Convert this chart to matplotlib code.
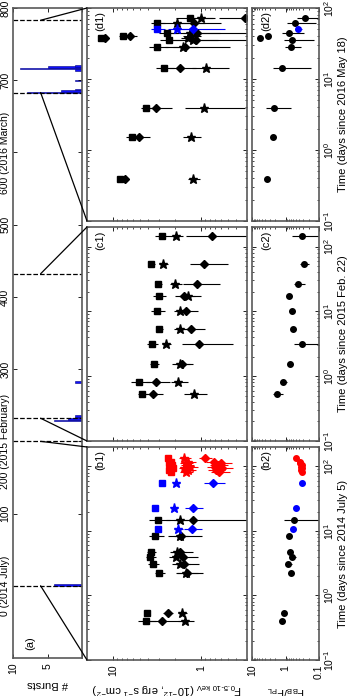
import numpy as np
import matplotlib.pyplot as plt
from matplotlib.patches import ConnectionPatch
from matplotlib.ticker import NullFormatter

plt.rcParams['font.family'] = 'Liberation Sans'
plt.rcParams['mathtext.fontset'] = 'custom'
plt.rcParams['mathtext.rm'] = 'Liberation Sans'
plt.rcParams['mathtext.it'] = 'Liberation Sans:italic'
plt.rcParams['mathtext.bf'] = 'Liberation Sans:bold'

# (a) burst history, days since 2014 July 5
burst_day = [1, 229, 231, 233, 235, 282, 683, 685, 687, 700, 714, 716, 718, 720]
burst_num = [4, 4, 2, 1, 1, 1, 8, 3, 1, 1, 1, 9, 5, 1]
epoch_start = [0, 232, 683]
epoch_len = [200, 200, 100]
a_ticks = [0, 100, 200, 300, 400, 500, 600, 700, 800]
a_ticklabels = ['0 (2014 July)', '100', '200 (2015 February)', '300', '400',
                '500', '600 (2016 March)', '700', '800']

# (b) days since 2014 July 5
b_t = [0.40, 0.54, 2.2, 3.1, 3.95, 4.7, 8.4, 10.7, 14.8, 22.8, 55.5,
       83, 89, 93, 98, 105, 112, 117, 135]
b_col = ['k', 'k', 'k', 'k', 'k', 'k', 'k', 'b', 'k', 'b', 'b',
         'r', 'r', 'r', 'r', 'r', 'r', 'r', 'r']
b_sq = [4.3, 4.1, 3.0, 3.5, 3.8, 3.7, 3.33, 3.08, 3.08, 3.33, 2.77,
        2.2, 2.3, 2.1, 2.25, 2.15, 2.3, 2.2, 2.4]
b_sq_err = [1.0, 0.3, 0.4, 0.5, 0.5, 0.4, 0.65, 0.0, 0.8, 0.0, 0.0,
            0.15, 0.15, 0.15, 0.15, 0.15, 0.15, 0.15, 0.15]
b_st = [1.52, 1.64, 1.48, 1.73, 1.92, 1.87, 1.73, 1.83, 1.73, 2.03, 1.92,
        1.5, 1.4, 1.55, 1.35, 1.45, 1.5, 1.4, 1.55]
b_st_err = [0.3, 0.2, 0.4, 0.4, 0.4, 0.4, 0.3, 0.2, 0.3, 0.2, 0.2,
            0.25, 0.25, 0.25, 0.25, 0.25, 0.25, 0.25, 0.25]
b_di = [2.8, 2.4, 1.44, 1.56, 1.6, 1.73, 1.69, 1.27, 1.23, 1.23, 0.73,
        0.62, 0.68, 0.58, 0.7, 0.65, 0.6, 0.72, 0.9]
b_di_err = [1.1, 0.3, 0.5, 0.5, 0.5, 0.5, 0.7, 0.3, 1.3, 0.28, 0.2,
            0.15, 0.15, 0.15, 0.15, 0.15, 0.15, 0.15, 0.15]
b_ratio = [1.27, 1.11, 0.69, 0.84, 0.64, 0.73, 0.78, 0.60, 0.56, 0.49, 0.32,
           0.33, 0.34, 0.32, 0.35, 0.33, 0.36, 0.38, 0.49]
b_ratio_err = [0.2, 0.15, 0.15, 0.2, 0.15, 0.15, 0.15, 0.05, 0.55, 0.05, 0.04,
               0.03, 0.03, 0.03, 0.03, 0.03, 0.03, 0.03, 0.04]

# (c) days since 2015 Feb. 22
c_t = [0.53, 0.81, 1.54, 3.14, 5.35, 10.1, 17.3, 26.5, 53.8, 146]
c_col = ['k'] * 10
c_sq = [4.68, 5.07, 3.42, 3.6, 3.0, 3.16, 3.0, 3.08, 3.70, 2.77]
c_sq_err = [0.6, 1.2, 0.4, 0.5, 0.3, 0.6, 0.5, 0.3, 0.3, 0.6]
c_st = [1.2, 1.83, 1.73, 2.5, 1.73, 1.73, 1.41, 1.97, 2.70, 1.92]
c_st_err = [0.35, 0.4, 0.4, 0.3, 0.3, 0.3, 0.4, 0.3, 0.3, 0.3]
c_di = [3.51, 3.24, 1.64, 1.05, 1.30, 1.48, 1.56, 1.11, 0.92, 0.75]
c_di_err = [0.8, 1.0, 0.4, 0.62, 0.4, 0.4, 0.4, 0.5, 0.42, 0.74]
c_ratio = [1.8, 1.18, 0.73, 0.32, 0.60, 0.64, 0.78, 0.42, 0.28, 0.32]
c_ratio_err = [0.6, 0.3, 0.12, 0.22, 0.1, 0.12, 0.15, 0.15, 0.08, 0.3]

# (d) days since 2016 May 18
d_t = [0.39, 1.52, 3.9, 14.3, 28, 35.5, 37.5, 40.5, 44.6, 50.6, 61.5, 72]
d_col = ['k', 'k', 'k', 'k', 'k', 'k', 'k', 'k', 'k', 'b', 'k', 'k']
d_sq = [8.5, 6.2, 4.2, 2.63, 3.16, 2.31, 14.0, 7.7, 2.43, 3.16, 3.16, 1.33]
d_sq_err = [0.3, 1.0, 0.6, 0.6, 0.8, 0.6, 1.0, 1.0, 0.6, 0.6, 0.6, 0.6]
d_st = [1.23, 1.3, 0.92, 0.88, 1.6, 1.23, 1.4, 1.3, 1.33, 1.87, 1.9, 1.0]
d_st_err = [0.2, 0.3, 0.6, 0.4, 0.5, 1.2, 0.3, 0.3, 1.2, 0.5, 1.0, 0.3]
d_di = [7.3, 5.1, 3.25, 1.73, 1.52, 1.14, 12.5, 6.4, 1.11, 1.23, 1.2, 0.32]
d_di_err = [0.3, 1.3, 1.1, 0.6, 1.05, 0.5, 1.0, 1.0, 0.5, 0.7, 0.6, 0.3]
d_ratio = [3.57, 2.36, 2.2, 1.27, 0.69, 0.64, 5.8, 3.3, 0.78, 0.42, 0.52, 0.26]
d_ratio_err = [0.3, 0.4, 1.5, 1.1, 0.35, 0.5, 0.4, 0.4, 0.5, 0.1, 0.4, 0.2]

W, H = 349, 696
fig = plt.figure(figsize=(W / 100, H / 100), dpi=100)


def box(x0, y0, x1, y1):
    return [x0 / W, 1 - y1 / H, (x1 - x0) / W, (y1 - y0) / H]


frame = '0.35'
fs = 8
tfs = 7.5


def style(ax):
    for s in ax.spines.values():
        s.set_color(frame)
        s.set_linewidth(1.2)
    ax.tick_params(which='both', direction='in', top=True, bottom=True,
                   left=True, right=True, labelsize=tfs)
    ax.tick_params(which='major', length=3, width=0.6)
    ax.tick_params(which='minor', length=1.6, width=0.5)


ax_a = fig.add_axes(box(13, 8, 82, 658))
ax_b1 = fig.add_axes(box(87, 447, 247, 660))
ax_b2 = fig.add_axes(box(252, 447, 319, 660))
ax_c1 = fig.add_axes(box(87, 227, 247, 441))
ax_c2 = fig.add_axes(box(252, 227, 319, 441))
ax_d1 = fig.add_axes(box(87, 8, 247, 221))
ax_d2 = fig.add_axes(box(252, 8, 319, 221))

# panel (a)
ax_a.barh(burst_day, burst_num, height=2, color='#1010ff', edgecolor='#000080', lw=0.4)
for t0, ln in zip(epoch_start, epoch_len):
    ax_a.axhline(t0, ls='--', color='k', lw=0.9)
    ax_a.axhline(t0 + ln, ls='--', color='k', lw=0.9)
ax_a.set_xlim(10, 0)
ax_a.set_ylim(-100, 800)
style(ax_a)
ax_a.set_xticks([10, 5, 0])
ax_a.set_xticklabels(['10', '5', ''], rotation=90, ha='center', va='top')
ax_a.set_yticks(a_ticks)
ax_a.set_yticklabels(a_ticklabels, rotation=90, va='center', ha='right')
ax_a.tick_params(axis='y', pad=2)
ax_a.set_xlabel('# Bursts', rotation=180, fontsize=fs, labelpad=3)
ax_a.text(0.25, 0.012, '(a)', transform=ax_a.transAxes, rotation=90,
          ha='center', va='bottom', fontsize=fs)


def flux_panel(ax, t, sq, sq_e, st, st_e, di, di_e, cols, last):
    t = np.array(t)
    cols = np.array(cols)
    for c in ['k', 'b', 'r']:
        m = cols == c
        if not m.any():
            continue
        col = {'k': 'k', 'b': '#0000ff', 'r': '#ff0000'}[c]
        ax.errorbar(np.array(sq)[m], t[m], xerr=np.array(sq_e)[m], fmt='s', ms=4,
                    color=col, ecolor=col, elinewidth=0.8, capsize=0)
        ax.errorbar(np.array(di)[m], t[m], xerr=np.array(di_e)[m], fmt='D', ms=3.8,
                    color=col, ecolor=col, elinewidth=0.8, capsize=0)
        ax.errorbar(np.array(st)[m], t[m], xerr=np.array(st_e)[m], fmt='*', ms=6.5,
                    color=col, ecolor=col, elinewidth=0.8, capsize=0)
    ax.set_xscale('log')
    ax.set_yscale('log')
    ax.set_xlim(20, 0.3)
    ax.set_ylim(0.1, last)
    style(ax)
    ax.set_xticks([10, 1])
    ax.xaxis.set_minor_formatter(NullFormatter())
    ax.yaxis.set_minor_formatter(NullFormatter())
    ax.tick_params(labelleft=False, labelright=False, labelbottom=False)


def ratio_panel(ax, t, r, r_e, cols, last, label):
    t = np.array(t)
    cols = np.array(cols)
    for c in ['k', 'b', 'r']:
        m = cols == c
        if not m.any():
            continue
        col = {'k': 'k', 'b': '#0000ff', 'r': '#ff0000'}[c]
        ax.errorbar(np.array(r)[m], t[m], xerr=np.array(r_e)[m], fmt='o', ms=4,
                    color=col, ecolor=col, elinewidth=0.8, capsize=0)
    ax.set_xscale('log')
    ax.set_yscale('log')
    ax.set_xlim(10, 0.1)
    ax.set_ylim(0.1, last)
    style(ax)
    ax.set_xticks([10, 1, 0.1])
    ax.xaxis.set_minor_formatter(NullFormatter())
    ax.yaxis.set_minor_formatter(NullFormatter())
    ax.set_yticks([0.1, 1, 10, 100])
    ax.set_yticklabels([r'$10^{-1}$', r'$10^{0}$', r'$10^{1}$', r'$10^{2}$'],
                       rotation=90, va='center', ha='left')
    ax.set_ylim(0.1, last)
    ax.tick_params(axis='y', labelleft=False, labelright=True, pad=2)
    ax.tick_params(axis='x', labelbottom=False)
    ax.yaxis.set_label_position('right')
    ax.set_ylabel(label, fontsize=fs, labelpad=2)


flux_panel(ax_b1, b_t, b_sq, b_sq_err, b_st, b_st_err, b_di, b_di_err, b_col, 200)
flux_panel(ax_c1, c_t, c_sq, c_sq_err, c_st, c_st_err, c_di, c_di_err, c_col, 200)
flux_panel(ax_d1, d_t, d_sq, d_sq_err, d_st, d_st_err, d_di, d_di_err, d_col, 100)
ratio_panel(ax_b2, b_t, b_ratio, b_ratio_err, b_col, 200, 'Time (days since 2014 July 5)')
ratio_panel(ax_c2, c_t, c_ratio, c_ratio_err, c_col, 200, 'Time (days since 2015 Feb. 22)')
ratio_panel(ax_d2, d_t, d_ratio, d_ratio_err, d_col, 100, 'Time (days since 2016 May 18)')

ax_b1.tick_params(axis='x', labelbottom=True)
ax_b1.set_xticklabels(['10', '1'], rotation=90, ha='center', va='top')
ax_b1.set_xlabel(r'F$_{\rm 0.5\text{-}10\ keV}$ (10$^{-12}$, erg s$^{-1}$ cm$^{-2}$)',
                 rotation=180, fontsize=fs, labelpad=3)
ax_b2.tick_params(axis='x', labelbottom=True)
ax_b2.set_xticklabels(['10', '1', '0.1'], rotation=90, ha='center', va='top')
ax_b2.set_xlabel(r'F$_{\rm BB}$/F$_{\rm PL}$', rotation=180, fontsize=fs, labelpad=3)

for ax, name in [(ax_b1, '(b1)'), (ax_c1, '(c1)'), (ax_d1, '(d1)')]:
    ax.text(0.08, 0.985, name, transform=ax.transAxes, rotation=90,
            ha='center', va='top', fontsize=fs)
for ax, name in [(ax_b2, '(b2)'), (ax_c2, '(c2)'), (ax_d2, '(d2)')]:
    ax.text(0.22, 0.985, name, transform=ax.transAxes, rotation=90,
            ha='center', va='top', fontsize=fs)

# connectors from the burst history to the zoomed panels
for t0, ln, ax in zip(epoch_start, epoch_len, [ax_b1, ax_c1, ax_d1]):
    for tt, yy in [(t0, 0), (t0 + ln, 1)]:
        con = ConnectionPatch(xyA=(6, tt), coordsA=ax_a.transData,
                              xyB=(0, yy), coordsB=ax.transAxes,
                              color='k', lw=0.9)
        fig.add_artist(con)

fig.savefig('out.png', dpi=100)
